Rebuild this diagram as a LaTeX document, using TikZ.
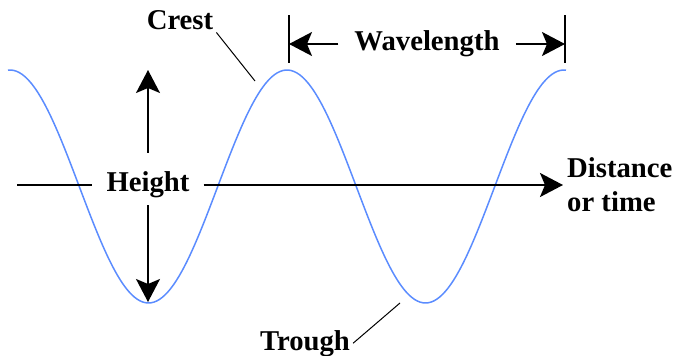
\documentclass[tikz,border=0pt]{standalone}
\usepackage{fontspec}
\setmainfont{Liberation Serif}
\usetikzlibrary{arrows.meta,positioning}
\usepackage{xcolor}
\definecolor{wavecol}{HTML}{5B8CFF}
\definecolor{ink}{HTML}{000000}
\tikzset{
  tag/.style={font=\bfseries\fontsize{28.7}{34}\selectfont,inner sep=3pt},
  flow/.style={-{Stealth[length=23pt,width=24pt,inset=5pt]},line width=1.6pt,draw=ink},
  axis/.style={flow,line width=2pt},
  leader/.style={line width=1pt,draw=ink},
  tick/.style={line width=1.6pt,draw=ink},
  sine/.style={draw=wavecol,line width=1.5pt}
}

\begin{document}
\begin{tikzpicture}[x=1pt,y=-1pt]
\useasboundingbox (0,0) rectangle (675,356);
\draw[sine] plot[domain=8:566,samples=200,smooth] (\x,{186.5-116.5*cos((\x-10)/277*360)});
\coordinate (o) at (17,185);
\coordinate (x) at (563,185);
\coordinate (top) at (148,70);
\coordinate (bot) at (148,302);
\node[tag,inner xsep=14pt,inner ysep=7pt] (h) at (148,185) {Height};
\draw[axis,-] (o) -- (h);
\draw[axis] (h) -- (x);
\draw[flow,shorten <=12pt] (h) -- (top);
\draw[flow] (h) -- (bot);
\node[tag,anchor=west,align=left,inner xsep=4pt] (d) at (x) {Distance\\or time};
\coordinate (l1) at (289,44);
\coordinate (l2) at (565,44);
\coordinate (l1a) at (289,15);
\coordinate (l1b) at (289,63);
\coordinate (l2a) at (565,15);
\coordinate (l2b) at (565,63);
\draw[tick] (l1a) -- (l1b);
\draw[tick] (l2a) -- (l2b);
\node[tag,inner xsep=16pt] (w) at (427,44) {Wavelength};
\draw[flow] (w) -- (l1);
\draw[flow] (w) -- (l2);
\node[tag,anchor=base] (c) at (180,29) {Crest};
\coordinate (cp) at (255,81);
\draw[leader] (c.south east) -- (cp);
\node[tag,anchor=base] (t) at (305,350) {Trough};
\coordinate (tp) at (400,303);
\draw[leader] (t.east) -- (tp);
\end{tikzpicture}
\end{document}
